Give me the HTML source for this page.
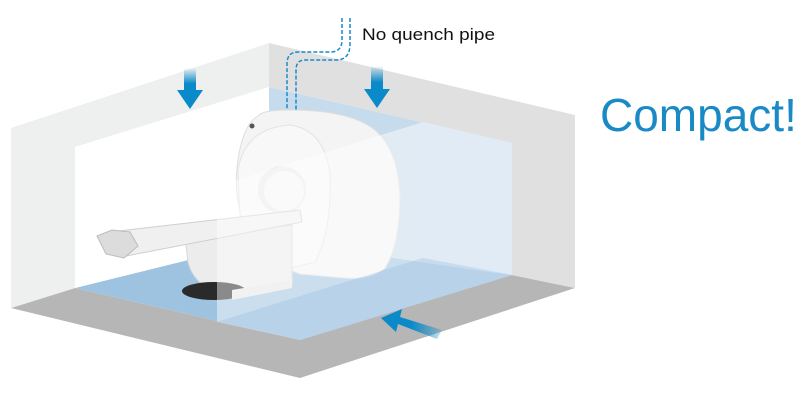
<!DOCTYPE html>
<html><head><style>
html,body{margin:0;padding:0;background:#fff;}
body{width:800px;height:400px;overflow:hidden;position:relative;font-family:"Liberation Sans",sans-serif;}
</style></head><body>
<svg width="800" height="400" viewBox="0 0 800 400" xmlns="http://www.w3.org/2000/svg">
<defs>
<linearGradient id="ag" x1="0" y1="0" x2="0" y2="1">
<stop offset="0" stop-color="#0a8ac8" stop-opacity="0"/>
<stop offset="0.6" stop-color="#0a8ac8" stop-opacity="1"/>
</linearGradient>
<linearGradient id="ag2" x1="1" y1="0" x2="0" y2="0">
<stop offset="0" stop-color="#0a8ac8" stop-opacity="0.2"/>
<stop offset="0.5" stop-color="#0a8ac8" stop-opacity="1"/>
</linearGradient>
</defs>
<polygon points="11,308 75,288 300,340 512,275 575,288 300,378" fill="#b6b6b6"/>
<polygon points="75,288 269,240 512,275 300,340" fill="#9ec3e0"/>
<polygon points="269,87 512,143 512,275 269,240" fill="#c6dbec"/>
<polygon points="11,128 269,43 269,87 75,147 75,288 11,308" fill="#eef0f0"/>
<polygon points="75,147 269,87 269,240 75,288" fill="#ffffff"/>
<polygon points="269,43 575,115 575,288 512,275 512,143 269,87" fill="#e0e0e0"/>
<!-- gantry -->
<path d="M258,116 Q262,110 290,110 Q350,110 375,130 Q398,150 400,195 Q400,245 385,268 Q370,280 345,278 L300,274 Q268,262 248,232 Q232,200 238,160 Q243,125 258,116 Z" fill="#f4f4f4" stroke="#dedede"/>
<path d="M238,170 Q245,128 290,125 Q325,130 330,175 Q332,230 315,262 L290,268 Q250,250 240,215 Z" fill="#f8f8f8" stroke="#e4e4e4"/>
<circle cx="282" cy="190" r="24" fill="#ececec"/>
<circle cx="284" cy="191" r="20" fill="#f6f6f6"/>
<circle cx="252" cy="126" r="2.5" fill="#555"/>
<!-- table base -->
<path d="M185,238 L292,225 L292,285 L232,296 Q195,290 188,262 Z" fill="#ececec" stroke="#d8d8d8"/>
<ellipse cx="214" cy="291" rx="32" ry="9" fill="#2a2a2a"/>
<polygon points="232,290 292,280 292,288 232,300" fill="#e6e6e6"/>
<!-- table top -->
<polygon points="110,232 300,210 302,222 126,256" fill="#f0f0f0" stroke="#cfcfcf"/>
<polygon points="97,236 112,230 130,232 138,246 124,258 106,254" fill="#dcdcdc" stroke="#bcbcbc"/>
<!-- translucent box -->
<polygon points="217,186 423,122 423,258 217,322" fill="#ffffff" fill-opacity="0.45"/>
<polygon points="423,122 512,143 512,275 423,258" fill="#e6eff8" fill-opacity="0.8"/>
<polygon points="217,322 423,258 512,275 300,340" fill="#c9dcee" fill-opacity="0.6"/>
<!-- pipe -->
<g fill="none" stroke="#1a8ac8" stroke-width="1.5" stroke-dasharray="4,2">
<path d="M342,18 L342,40 Q342,52 330,52 L298,52 Q287,52 287,64 L287,110"/>
<path d="M350,18 L350,44 Q350,60 336,60 L305,60 Q296,60 296,70 L296,110"/>
</g>
<text x="362" y="40" font-size="17" fill="#111" textLength="133" lengthAdjust="spacingAndGlyphs">No quench pipe</text>
<!-- arrows -->
<rect x="184" y="68" width="12" height="26" fill="url(#ag)"/>
<polygon points="177,90 203,90 190,109" fill="#0a8ac8"/>
<rect x="371" y="66" width="12" height="27" fill="url(#ag)"/>
<polygon points="364,89 390,89 377,108" fill="#0a8ac8"/>
<polygon points="442,330 437,339 398,324 396,332 381,318 402,309 400,317" fill="url(#ag2)"/>
<text x="600" y="131" font-size="46" fill="#1a8ac6" font-weight="300">Compact!</text>
</svg>
</body></html>
